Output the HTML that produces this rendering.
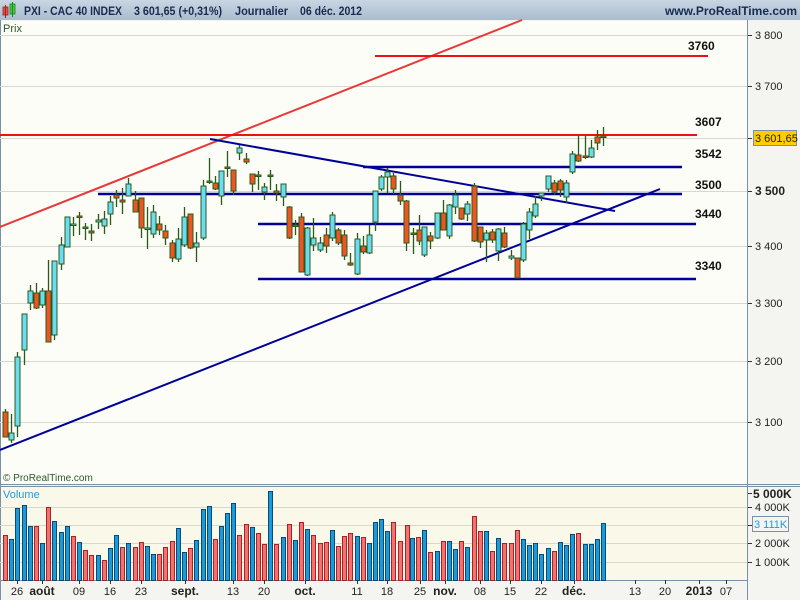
<!DOCTYPE html>
<html><head><meta charset="utf-8"><style>
html,body{margin:0;padding:0;background:#fff;}
svg{display:block;font-family:"Liberation Sans",sans-serif;}
</style></head><body>
<svg id="s" width="800" height="600" xmlns="http://www.w3.org/2000/svg">
<defs><linearGradient id="hd" x1="0" y1="0" x2="0" y2="1"><stop offset="0" stop-color="#c9d6e3"/><stop offset="1" stop-color="#a9bccf"/></linearGradient></defs>
<rect x="0" y="0" width="800" height="600" fill="#f4f4f0"/>
<rect x="0" y="0" width="800" height="20" fill="url(#hd)"/>
<rect x="3" y="7" width="5" height="8" fill="#e05050" stroke="#a02020" stroke-width="0.8"/>
<line x1="5.5" y1="5" x2="5.5" y2="18" stroke="#a02020"/>
<rect x="10" y="4" width="5" height="10" fill="#40d040" stroke="#208020" stroke-width="0.8"/>
<line x1="12.5" y1="2" x2="12.5" y2="17" stroke="#208020"/>
<text x="24" y="15" font-size="12" font-weight="bold" fill="#1a2a50" textLength="98" lengthAdjust="spacingAndGlyphs">PXI - CAC 40 INDEX</text>
<text x="134" y="15" font-size="12" font-weight="bold" fill="#1a2a50" textLength="88" lengthAdjust="spacingAndGlyphs">3 601,65 (+0,31%)</text>
<text x="235" y="15" font-size="12" font-weight="bold" fill="#1a2a50" textLength="53" lengthAdjust="spacingAndGlyphs">Journalier</text>
<text x="300" y="15" font-size="12" font-weight="bold" fill="#1a2a50" textLength="62" lengthAdjust="spacingAndGlyphs">06 déc. 2012</text>
<text x="797" y="15" font-size="12" font-weight="bold" fill="#1a2a50" text-anchor="end">www.ProRealTime.com</text>
<rect x="0" y="21" width="747" height="463" fill="#fdfdf7"/>
<rect x="0" y="487" width="747" height="93" fill="#faf8e9"/>
<line x1="747.5" y1="20" x2="747.5" y2="600" stroke="#7890a8"/>
<line x1="0" y1="484.5" x2="800" y2="484.5" stroke="#7890a8"/>
<line x1="0" y1="486.5" x2="800" y2="486.5" stroke="#7890a8"/>
<line x1="0" y1="580.5" x2="747" y2="580.5" stroke="#7890a8"/>
<line x1="0.5" y1="20" x2="0.5" y2="600" stroke="#7890a8"/>
<g id="g"></g>
<text x="3" y="32" font-size="11" fill="#2a5a2a">Prix</text>
<text x="3" y="481" font-size="10" fill="#2a5a2a">© ProRealTime.com</text>
<text x="3" y="498" font-size="11" fill="#2299dd">Volume</text>
</svg>
<script>
var g=document.getElementById('g'),h='';
function L(x1,y1,x2,y2,c,w){h+='<line x1="'+x1+'" y1="'+y1+'" x2="'+x2+'" y2="'+y2+'" stroke="'+c+'" stroke-width="'+(w||1)+'"/>';}
function T(x,y,t,o){h+='<text x="'+x+'" y="'+y+'" '+(o||'')+'>'+t+'</text>';}
var pg=[[3800,35],[3700,86],[3600,138],[3500,191],[3400,246],[3300,303],[3200,361],[3100,422]];
pg.forEach(function(p){L(0,p[1]+.5,747,p[1]+.5,'#d8d8d0');L(748,p[1]+.5,752,p[1]+.5,'#333');
 if(p[0]!=3600)T(755,p[1]+4,(p[0]+'').replace(/^(\d)/,'$1 '),'font-size="'+(p[0]==3500?12:11)+'" fill="#222"'+(p[0]==3500?' font-weight="bold"':''));});
[[507,'4 000K'],[525,''],[543,'2 000K'],[562,'1 000K']].forEach(function(v){L(0,v[0]+.5,747,v[0]+.5,'#d8d8c8');L(748,v[0]+.5,752,v[0]+.5,'#333');if(v[1])T(755,v[0]+4,v[1],'font-size="11" fill="#222"');});
L(748,493.5,752,493.5,'#333');T(753,498,'5 000K','font-size="12" font-weight="bold" fill="#222"');
h+='<rect x="752.5" y="516.5" width="36" height="15" fill="none" stroke="#7890a8"/>';T(754,528,'3 111K','font-size="11" fill="#2299dd"');
L(0,227,522,20,'#e83838',2);
L(0,135,697,135,'#ee1111',2);
L(375,56,708,56,'#ee1111',2);
L(363,167,682,167,'#000099',2.5);
L(98,194,682,194,'#000099',2.5);
L(258,224,696,224,'#000099',2.5);
L(258,279,696,279,'#000099',2.5);
L(210,139,615,211,'#000099',2);
L(0,450,660,189,'#000099',2);
var C=[[5,412,437,409,437,0],[11,433,440,414,443,1],[17,357,426,352,437,1],[24,314,350,314,365,1],[30,291,303,285,310,1],[36,293,308,283,309,0],[42,291,305,288,308,1],[48,291,342,260,342,0],[54,261,335,261,340,1],[61,245,264,237,270,1],[67,217,247,217,247,1],[73,224,225,217,236,1],[79,216,217,212,235,0],[85,227,228,223,240,0],[91,231,233,224,241,0],[98,220,222,214,229,1],[104,219,226,211,234,1],[110,202,214,196,225,1],[116,195,198,190,207,0],[122,200,202,188,214,0],[128,184,196,178,196,1],[135,200,212,191,212,0],[141,198,228,198,238,0],[147,228,229,207,249,1],[153,212,234,205,238,1],[159,224,230,216,235,0],[165,231,238,225,245,0],[172,243,258,240,262,0],[178,239,259,228,262,1],[184,217,245,207,247,1],[190,214,248,214,249,0],[196,243,247,232,262,1],[203,186,238,180,240,1],
[209,181,182,158,184,0],[215,183,189,176,190,0],[221,171,196,171,205,1],[227,167,168,151,177,0],[233,170,191,170,195,0],[239,148,153,145,160,1],[246,159,162,153,164,0],[252,174,184,174,192,0],[258,175,176,171,190,0],[264,187,192,183,200,1],[270,175,176,170,190,0],[276,191,193,184,201,0],[283,184,197,184,206,1],[289,207,238,206,239,0],[295,225,226,220,235,0],[301,217,272,213,272,0],[307,228,275,227,276,1],[313,238,245,218,251,1],[320,243,250,237,252,1],[326,235,246,228,253,0],[332,215,238,212,241,1],[338,230,243,228,245,0],[344,235,256,230,260,0],[350,263,265,253,266,0],[357,239,274,233,275,1],[363,246,252,236,254,0],[369,235,253,225,254,1],[375,191,222,191,231,1],[381,177,189,175,191,1],[387,172,177,168,193,1],[393,176,189,173,194,0],[400,195,201,181,205,0],[406,201,243,200,251,0],
[413,233,234,228,254,0],[419,230,241,215,245,0],[424,227,255,227,257,1],[430,236,241,232,249,0],[437,213,238,213,239,1],[443,213,230,200,230,0],[449,205,236,204,239,1],[455,195,207,190,214,1],[461,208,219,208,220,0],[467,204,214,201,221,1],[474,186,241,183,242,0],[480,227,242,227,248,0],[486,233,240,230,262,1],[492,232,240,229,243,0],[498,229,251,228,261,1],[504,233,247,227,248,0],[511,256,258,250,260,1],[517,258,278,258,278,0],[523,224,260,222,262,1],[529,212,230,208,239,1],[535,204,216,196,218,1],[541,193,196,193,201,1],[548,176,189,176,192,1],[554,183,192,180,195,0],[560,181,190,179,197,0],[566,183,197,180,203,1],[572,154,172,151,174,1],[578,155,161,136,162,0],[585,156,157,136,159,0],[591,148,157,140,158,1],[597,137,143,130,150,0],[603,136,137,127,146,0]];
C.forEach(function(c){var x=c[0];L(x+.5,c[3],x+.5,c[4],'#2a5a1a',1.3);
 h+='<rect x="'+(x-2)+'" y="'+c[1]+'" width="5" height="'+Math.max(1.5,c[2]-c[1])+'" fill="'+(c[5]?'#6adcf4':'#ee5522')+'" stroke="#2a5a1a" stroke-width="1"/>';});
var V=[[5,535,0],[11,539,1],[17,508,1],[24,505,1],[30,526,1],[36,526,0],[42,543,1],[48,507,0],[54,521,1],[61,532,1],[67,526,1],[73,536,0],[79,542,1],[85,550,0],[91,555,0],[98,555,1],[104,560,0],[110,548,1],[116,535,1],[122,547,0],[128,543,1],[135,547,0],[141,542,0],[147,546,1],[153,554,1],[159,554,0],[165,547,0],[172,541,0],[178,528,1],[184,552,1],[190,548,0],[196,540,1],[203,509,1],[209,506,1],[215,539,0],[221,526,1],[227,513,1],[233,503,1],[239,535,0],[246,524,0],[252,527,1],[258,533,0],[264,544,0],[270,491,1],[276,544,0],[283,537,1],[289,524,0],[295,540,1],[301,522,0],[307,529,1],[313,535,0],[320,543,0],[326,542,0],[332,530,1],[338,546,0],[344,536,0],[350,533,0],[357,536,1],[363,537,0],[369,543,1],[375,522,1],[381,519,1],[387,531,1],[393,522,0],[400,541,0],
[407,525,0],[412,538,1],[418,537,0],[424,530,1],[430,552,0],[437,551,1],[443,541,0],[449,541,1],[455,549,1],[461,541,0],[467,547,1],[474,516,0],[480,531,0],[486,531,1],[492,551,0],[498,538,1],[504,543,0],[511,543,0],[517,530,0],[523,539,1],[529,545,1],[535,543,1],[541,554,1],[548,548,1],[554,551,0],[560,542,1],[566,545,1],[572,534,1],[578,533,0],[585,544,1],[591,544,1],[597,539,1],[603,523,1]];
V.forEach(function(v){h+='<rect x="'+(v[0]-2)+'.5" y="'+v[1]+'.5" width="4" height="'+(580-v[1])+'" fill="'+(v[2]?'#1a9ad6':'#f07272')+'" stroke="'+(v[2]?'#0a4a7a':'#aa2222')+'" stroke-width="1"/>';});
[[688,50,'3760'],[695,126,'3607'],[695,158,'3542'],[695,189,'3500'],[695,218,'3440'],[695,270,'3340']].forEach(function(l){T(l[0],l[1],l[2],'font-size="12" font-weight="bold" fill="#111"');});
h+='<rect x="753.5" y="130.5" width="43" height="15" fill="#ffcc00" stroke="#7890a8"/>';T(755,142,'3 601,65','font-size="11" fill="#222"');
[[17,'26',0],[42,'août',1],[79,'09',0],[110,'16',0],[141,'23',0],[185,'sept.',1],[233,'13',0],[264,'20',0],[305,'oct.',1],[357,'11',0],[387,'18',0],[420,'25',0],[445,'nov.',1],[480,'08',0],[510,'15',0],[541,'22',0],[574,'déc.',1],[635,'13',0],[665,'20',0],[699,'2013',1],[726,'07',0]].forEach(function(d){L(d[0]+.5,580,d[0]+.5,584,'#333');T(d[0],595,d[1],'font-size="'+(d[2]?12:11)+'" text-anchor="middle" fill="#222"'+(d[2]?' font-weight="bold"':''));});
g.innerHTML=h;
</script>
</body></html>
